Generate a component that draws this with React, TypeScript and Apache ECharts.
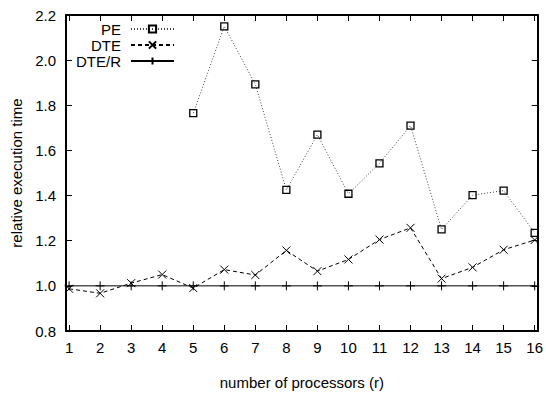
import React, { useEffect, useRef } from "react";
import * as echarts from "echarts";

const processors = [1, 2, 3, 4, 5, 6, 7, 8, 9, 10, 11, 12, 13, 14, 15, 16];
const peValues: (number | null)[] = [null, null, null, null, 1.765, 2.15, 1.893, 1.425, 1.67, 1.408, 1.543, 1.71, 1.25, 1.402, 1.422, 1.235];
const dteValues = [0.987, 0.967, 1.012, 1.05, 0.99, 1.072, 1.048, 1.157, 1.065, 1.117, 1.205, 1.257, 1.032, 1.082, 1.16, 1.203];
const dterValues = [1.0, 1.0, 1.0, 1.0, 1.0, 1.0, 1.0, 1.0, 1.0, 1.0, 1.0, 1.0, 1.0, 1.0, 1.0, 1.0];
const seriesNames = ["PE", "DTE", "DTE/R"];

const FONT = "'Liberation Sans', Arial, Helvetica, sans-serif";
const FS = 15;

export default function App() {
  const ref = useRef<HTMLDivElement>(null);
  useEffect(() => {
    if (!ref.current) return;
    const chart = echarts.init(ref.current, null, { renderer: "svg" });
    const toPairs = (vals: (number | null)[]) =>
      processors.map((p, i) => [p, vals[i]]).filter((d) => d[1] !== null);

    const frameLine = { show: true, onZero: false, lineStyle: { color: "#000", width: 2 } };
    const tick = { show: true, inside: true, length: 6, lineStyle: { color: "#000", width: 1 } };

    const xBase = {
      type: "value" as const,
      min: 0.9,
      max: 16.1,
      splitLine: { show: false },
      axisLine: frameLine,
    };
    const yBase = {
      type: "value" as const,
      min: 0.8,
      max: 2.2,
      interval: 0.2,
      splitLine: { show: false },
      axisLine: frameLine,
    };

    const legendRows = [21, 37, 53];

    chart.setOption({
      animation: false,
      backgroundColor: "#fff",
      textStyle: { fontFamily: FONT },
      grid: { left: 66, right: 6, top: 15, bottom: 67 },
      legend: seriesNames.map((n, i) => ({
        data: [n],
        orient: "vertical",
        align: "right",
        right: 371,
        top: legendRows[i],
        padding: 0,
        itemWidth: 43,
        itemHeight: 9,
        selectedMode: false,
        textStyle: { fontFamily: FONT, fontSize: FS, lineHeight: 16, color: "#000", padding: [0, 5, 0, 0] },
      })),
      xAxis: [
        {
          ...xBase,
          position: "bottom",
          name: "number of processors (r)",
          nameLocation: "middle",
          nameGap: 44,
          nameTextStyle: { fontFamily: FONT, fontSize: FS, color: "#000" },
          axisTick: { ...tick, customValues: processors },
          axisLabel: {
            customValues: processors,
            margin: 9,
            fontFamily: FONT,
            fontSize: FS,
            color: "#000",
          },
        },
        {
          ...xBase,
          position: "top",
          axisTick: { ...tick, customValues: processors },
          axisLabel: { show: false, customValues: processors },
        },
      ],
      yAxis: [
        {
          ...yBase,
          position: "left",
          name: "relative execution time",
          nameLocation: "middle",
          nameGap: 42,
          nameTextStyle: { fontFamily: FONT, fontSize: FS, color: "#000" },
          axisTick: tick,
          axisLabel: {
            margin: 10,
            fontFamily: FONT,
            fontSize: FS,
            color: "#000",
            formatter: (v: number) => v.toFixed(1),
          },
        },
        {
          ...yBase,
          position: "right",
          axisTick: tick,
          axisLabel: { show: false },
        },
      ],
      series: [
        {
          name: "DTE/R",
          type: "line",
          data: toPairs(dterValues),
          symbol: "path://M5,0L5,10M0,5L10,5",
          symbolSize: 9,
          lineStyle: { color: "#000", width: 1, type: "solid" },
          itemStyle: { color: "none", borderColor: "#000", borderWidth: 1 },
        },
        {
          name: "DTE",
          type: "line",
          data: toPairs(dteValues),
          symbol: "path://M0,0L10,10M10,0L0,10",
          symbolSize: 8,
          lineStyle: { color: "#000", width: 1, type: [4, 3] },
          itemStyle: { color: "none", borderColor: "#000", borderWidth: 1 },
        },
        {
          name: "PE",
          type: "line",
          data: toPairs(peValues),
          symbol: "rect",
          symbolSize: 7,
          lineStyle: { color: "#444", width: 1, type: [1, 2] },
          itemStyle: { color: "none", borderColor: "#000", borderWidth: 1.3 },
        },
      ],
    });
    return () => chart.dispose();
  }, []);
  return <div ref={ref} style={{ width: 546, height: 398, position: "absolute", left: 0, top: 0 }} />;
}
